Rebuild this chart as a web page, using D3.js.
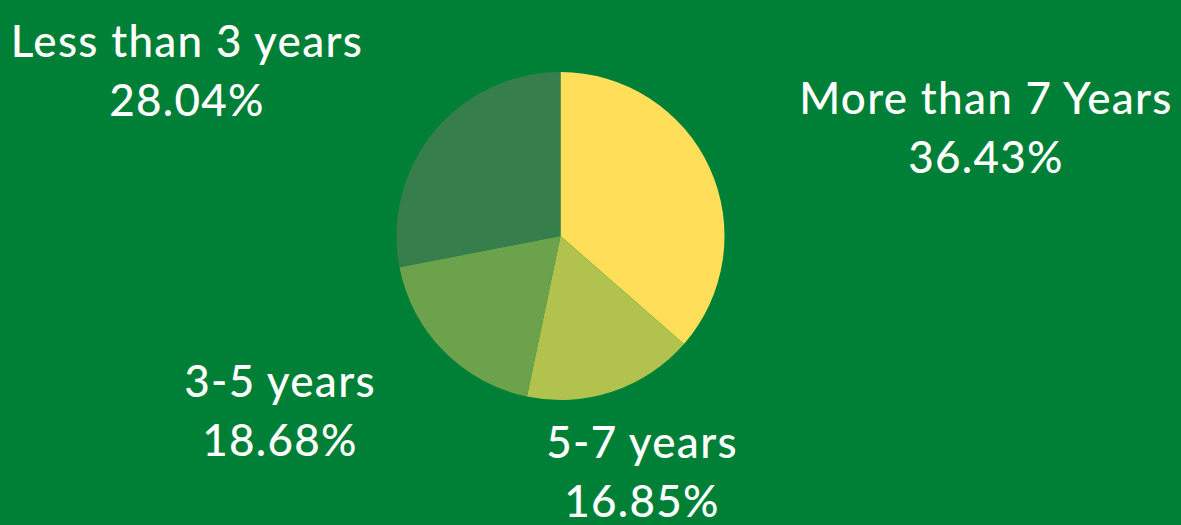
<!DOCTYPE html>
<html>
<head>
<meta charset="utf-8">
<script src="https://cdn.jsdelivr.net/npm/d3@7"></script>
<style>
	html, body { margin: 0; padding: 0; background: #008037; }
	#chart { width: 1181px; height: 525px; }
</style>
</head>
<body>
<div id="chart"></div>
<script>
// data
const categories = ["More than 7 Years", "5-7 years", "3-5 years", "Less than 3 years"];
const shares = [36.43, 16.85, 18.68, 28.04];
const colors = ["#ffde59", "#b1c24f", "#6ba24b", "#367f4d"];

// where each label sits (center x, first baseline y)
const labelPos = [[986, 114], [642, 458], [280, 397], [187, 57]];

const w = 1181, h = 525;
const cx = 560.5, cy = 236, r = 164;

const data = categories.map((c, i) => ({key: c, value: shares[i], color: colors[i], pos: labelPos[i]}));

const svg = d3.select("#chart")
	.append("svg")
	.attr("width", w)
	.attr("height", h);

svg.append("rect")
	.attr("width", w)
	.attr("height", h)
	.attr("fill", "#008037");

const pie = d3.pie()
	.sort(null)
	.value(d => d.value);

const arc = d3.arc()
	.innerRadius(0)
	.outerRadius(r);

const plot = svg.append("g")
	.attr("transform", `translate(${cx}, ${cy})`);

plot.selectAll(".slice")
	.data(pie(data))
	.enter()
	.append("path")
	.attr("class", "slice")
	.attr("d", arc)
	.attr("fill", d => d.data.color);

const labels = svg.selectAll(".label")
	.data(data)
	.enter()
	.append("text")
	.attr("class", "label")
	.attr("text-anchor", "middle")
	.style("font-family", "Lato, sans-serif")
	.style("font-size", "44px")
	.style("font-weight", "500")
	.style("letter-spacing", "1.3px")
	.style("fill", "#ffffff");

labels.append("tspan")
	.attr("x", d => d.pos[0])
	.attr("y", d => d.pos[1])
	.text(d => d.key);

labels.append("tspan")
	.attr("x", d => d.pos[0])
	.attr("y", d => d.pos[1] + 59)
	.text(d => d.value.toFixed(2) + "%");
</script>
</body>
</html>
